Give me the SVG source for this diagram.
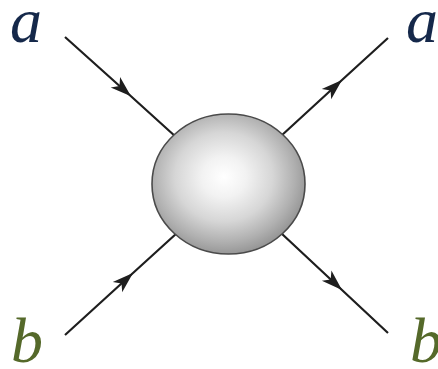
<svg xmlns="http://www.w3.org/2000/svg" width="438" height="369" viewBox="0 0 438 369">
<style>
.line{fill:none;stroke:#1e1e1e;stroke-width:2.2;marker-mid:url(#arr)}
.lbl{font-family:"Liberation Serif","DejaVu Serif",serif;font-style:italic;font-size:64px}
.a{fill:#15284a}
.b{fill:#55692a}
</style>
<defs>
<radialGradient id="g" cx="0.47" cy="0.45" r="0.58">
<stop offset="0" stop-color="#ffffff"/>
<stop offset="0.25" stop-color="#f2f2f2"/>
<stop offset="0.55" stop-color="#d6d6d6"/>
<stop offset="0.8" stop-color="#b0b0b0"/>
<stop offset="1" stop-color="#8e8e8e"/>
</radialGradient>
<marker id="arr" markerUnits="userSpaceOnUse" markerWidth="26" markerHeight="18" viewBox="-22 -9 26 18" refX="0" refY="0" orient="auto">
<path d="M0,0 L-21,-7 L-15.5,0 L-21,7 Z" fill="#1e1e1e"/>
</marker>
</defs>
<g id="connectors">
<path class="line" d="M65,37 L131,96.3 L176,137"/>
<path class="line" d="M281,136 L342,80 L388,38"/>
<path class="line" d="M65,335 L133,273 L177,233"/>
<path class="line" d="M281,233 L342,290 L388,333"/>
</g>
<g id="blob">
<ellipse cx="228.5" cy="184" rx="76.5" ry="70" fill="url(#g)" stroke="#4a4a4a" stroke-width="1.6"/>
</g>
<g id="label-a-in"><text class="lbl a" x="10" y="42">a</text></g>
<g id="label-a-out"><text class="lbl a" x="406" y="42">a</text></g>
<g id="label-b-in"><text class="lbl b" x="11" y="362">b</text></g>
<g id="label-b-out"><text class="lbl b" x="410" y="362">b</text></g>
</svg>
